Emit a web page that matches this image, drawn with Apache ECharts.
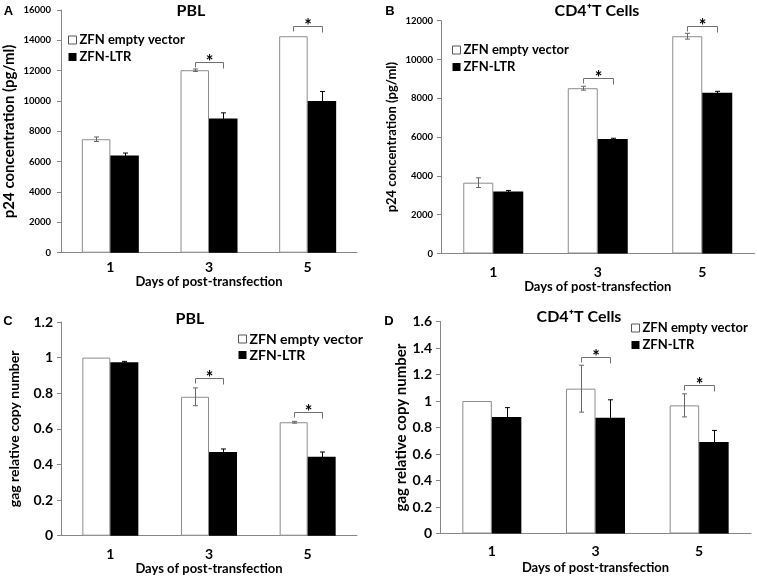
<!DOCTYPE html>
<html><head><meta charset="utf-8">
<script src="https://cdn.jsdelivr.net/npm/echarts@6/dist/echarts.min.js"></script>
<style>html,body{margin:0;padding:0;background:#fff}#c{width:757px;height:577px}</style>
</head><body><div id="c"></div>
<script>
// ---- data ----
const days = ['1', '3', '5'];
const seriesNames = ['ZFN empty vector', 'ZFN-LTR'];
const xAxisTitle = 'Days of post-transfection';

// Panel A: PBL p24
const aEmpty = [7480, 12030, 14270];
const aEmptyErr = [150, 80, 0];
const aLTR = [6400, 8850, 10000];
const aLTRErr = [170, 370, 630];
const aSig = [[1, 12550], [2, 14950]];

// Panel B: CD4+T cells p24
const bEmpty = [3650, 8520, 11200];
const bEmptyErr = [250, 100, 150];
const bLTR = [3200, 5900, 8280];
const bLTRErr = [50, 40, 80];
const bSig = [[1, 9050], [2, 11730]];

// Panel C: PBL gag
const cEmpty = [1.0, 0.78, 0.637];
const cEmptyErr = [0, 0.05, 0.005];
const cLTR = [0.974, 0.47, 0.444];
const cLTRErr = [0.005, 0.017, 0.026];
const cSig = [[1, 0.886], [2, 0.693]];

// Panel D: CD4+T cells gag
const dEmpty = [1.0, 1.093, 0.967];
const dEmptyErr = [0, 0.177, 0.087];
const dLTR = [0.88, 0.874, 0.69];
const dLTRErr = [0.07, 0.135, 0.088];
const dSig = [[1, 1.33], [2, 1.12]];

const titles = ['PBL', 'CD4\u207AT Cells', 'PBL', 'CD4\u207AT Cells'];
const letters = ['A', 'B', 'C', 'D'];
const yTitles = ['p24 concentration (pg/ml)', 'p24 concentration (pg/ml)', 'gag relative copy number', 'gag relative copy number'];

// ---- layout ----
const FONT = 'Lato';
const AXIS = '#868686';
const panels = [
  {grid: {left: 61, top: 10, width: 296, height: 242.7}, max: 16000, interval: 2000, bw: 28.5,
   empty: aEmpty, emptyErr: aEmptyErr, ltr: aLTR, ltrErr: aLTRErr, sig: aSig,
   yFont: 9.5, yMargin: 10, yNameFont: 15, yNameGap: 44, xMargin: 8, xNameGap: 23,
   leg: {left: 68, top: 33.5, font: 13, gap: 4}, title: [191, 10.5], letter: [8.5, 11.5]},
  {grid: {left: 441, top: 20.7, width: 313.5, height: 232.8}, max: 12000, interval: 2000, bw: 30,
   empty: bEmpty, emptyErr: bEmptyErr, ltr: bLTR, ltrErr: bLTRErr, sig: bSig,
   yFont: 9.5, yMargin: 8, yNameFont: 13, yNameGap: 43, xMargin: 12, xNameGap: 25,
   leg: {left: 452, top: 43.5, font: 13, gap: 4}, title: [597, 11], letter: [390, 11.5]},
  {grid: {left: 61, top: 322, width: 296, height: 213.7}, max: 1.2, interval: 0.2, bw: 28,
   empty: cEmpty, emptyErr: cEmptyErr, ltr: cLTR, ltrErr: cLTRErr, sig: cSig,
   yFont: 14, yMargin: 8, yNameFont: 14, yNameGap: 40, xMargin: 12, xNameGap: 26,
   leg: {left: 238, top: 332, font: 14, gap: 2}, title: [190, 319], letter: [8, 321.5]},
  {grid: {left: 440, top: 321.5, width: 311, height: 212}, max: 1.6, interval: 0.2, bw: 29.5,
   empty: dEmpty, emptyErr: dEmptyErr, ltr: dLTR, ltrErr: dLTRErr, sig: dSig,
   yFont: 14, yMargin: 8, yNameFont: 15, yNameGap: 31, xMargin: 11, xNameGap: 28,
   leg: {left: 631, top: 321.5, font: 13, gap: 4}, title: [579, 317], letter: [389, 321]}
];

function errRender(offSign, bw, color) {
  return function (params, api) {
    const i = api.value(0), v = api.value(1), e = api.value(2);
    if (!e) return null;
    const top = api.coord([i, v + e]);
    const bot = api.coord([i, v - e]);
    const x = Math.round(top[0] + offSign * bw / 2) + 0.5;
    const cap = 2.5;
    return {type: 'group', children: [
      {type: 'line', shape: {x1: x, y1: top[1], x2: x, y2: bot[1]}, style: {stroke: color, lineWidth: 1}},
      {type: 'line', shape: {x1: x - cap, y1: top[1], x2: x + cap, y2: top[1]}, style: {stroke: color, lineWidth: 1}},
      {type: 'line', shape: {x1: x - cap, y1: bot[1], x2: x + cap, y2: bot[1]}, style: {stroke: color, lineWidth: 1}}
    ]};
  };
}

function bracketRender(bw) {
  return function (params, api) {
    const i = api.value(0), lvl = api.value(1);
    const p = api.coord([i, lvl]);
    const x1 = Math.round(p[0] - bw / 2) + 0.5, x2 = Math.round(p[0] + bw / 2) + 0.5;
    const y = Math.round(p[1]) + 0.5;
    return {type: 'group', children: [
      {type: 'polyline', shape: {points: [[x1, y + 5], [x1, y], [x2, y], [x2, y + 6]]},
       style: {stroke: '#6f6f6f', fill: null, lineWidth: 1}},
      {type: 'text', x: (x1 + x2) / 2, y: y,
       style: {text: '*', font: 'bold 18px ' + FONT, fill: '#000', align: 'center', verticalAlign: 'middle'}}
    ]};
  };
}

const fmt = v => String(+v.toFixed(6));

const grid = [], xAxis = [], yAxis = [], series = [], legend = [], graphic = [];
panels.forEach((p, k) => {
  grid.push(p.grid);
  xAxis.push({
    type: 'category', gridIndex: k, data: days,
    axisLine: {lineStyle: {color: AXIS, width: 1}},
    axisTick: {length: 5, lineStyle: {color: AXIS}},
    axisLabel: {fontFamily: FONT, fontWeight: 'bold', fontSize: 14, color: '#000', margin: p.xMargin},
    name: xAxisTitle, nameLocation: 'middle', nameGap: p.xNameGap,
    nameTextStyle: {fontFamily: FONT, fontWeight: 'bold', fontSize: 13, color: '#000'}
  });
  yAxis.push({
    type: 'value', gridIndex: k, min: 0, max: p.max, interval: p.interval,
    axisLine: {show: true, lineStyle: {color: AXIS, width: 1}},
    axisTick: {show: true, length: 4, lineStyle: {color: AXIS}},
    splitLine: {show: false},
    axisLabel: {fontFamily: FONT, fontWeight: 'bold', fontSize: p.yFont, color: '#000', margin: p.yMargin, formatter: fmt},
    name: yTitles[k], nameLocation: 'middle', nameGap: p.yNameGap,
    nameTextStyle: {fontFamily: FONT, fontWeight: 'bold', fontSize: p.yNameFont, color: '#000'}
  });
  series.push({
    type: 'bar', name: seriesNames[0], xAxisIndex: k, yAxisIndex: k, data: p.empty,
    barWidth: p.bw, barGap: '0%',
    itemStyle: {color: '#ffffff', borderColor: '#8c8c8c', borderWidth: 1}, z: 2
  });
  series.push({
    type: 'bar', name: seriesNames[1], xAxisIndex: k, yAxisIndex: k, data: p.ltr,
    barWidth: p.bw, barGap: '0%',
    itemStyle: {color: '#000000'}, z: 2
  });
  series.push({
    type: 'custom', xAxisIndex: k, yAxisIndex: k, clip: false, z: 5,
    data: p.empty.map((v, i) => [i, v, p.emptyErr[i]]),
    renderItem: errRender(-1, p.bw, '#666')
  });
  series.push({
    type: 'custom', xAxisIndex: k, yAxisIndex: k, clip: false, z: 5,
    data: p.ltr.map((v, i) => [i, v, p.ltrErr[i]]),
    renderItem: errRender(1, p.bw, '#000')
  });
  series.push({
    type: 'custom', xAxisIndex: k, yAxisIndex: k, clip: false, z: 6,
    data: p.sig,
    renderItem: bracketRender(p.bw)
  });
  legend.push({
    left: p.leg.left, top: p.leg.top, orient: 'vertical', icon: 'rect',
    itemWidth: 8, itemHeight: 8, itemGap: p.leg.gap, selectedMode: false, padding: 0,
    data: [
      {name: seriesNames[0], itemStyle: {color: '#fff', borderColor: '#555', borderWidth: 1}},
      {name: seriesNames[1], itemStyle: {color: '#000'}}
    ],
    textStyle: {fontFamily: FONT, fontWeight: 'bold', fontSize: p.leg.font, color: '#000', padding: [0, 0, 0, -2]}
  });
  graphic.push({type: 'text', x: p.title[0], y: p.title[1],
    style: {text: titles[k], font: 'bold 16px ' + FONT, fill: '#000', align: 'center', verticalAlign: 'middle'}});
  graphic.push({type: 'text', x: p.letter[0], y: p.letter[1],
    style: {text: letters[k], font: 'bold 13px "Liberation Sans"', fill: '#000', align: 'center', verticalAlign: 'middle'}});
});

const chart = echarts.init(document.getElementById('c'), null, {renderer: 'canvas'});
chart.setOption({animation: false, backgroundColor: '#fff', grid, xAxis, yAxis, series, legend, graphic});
</script>
</body></html>
